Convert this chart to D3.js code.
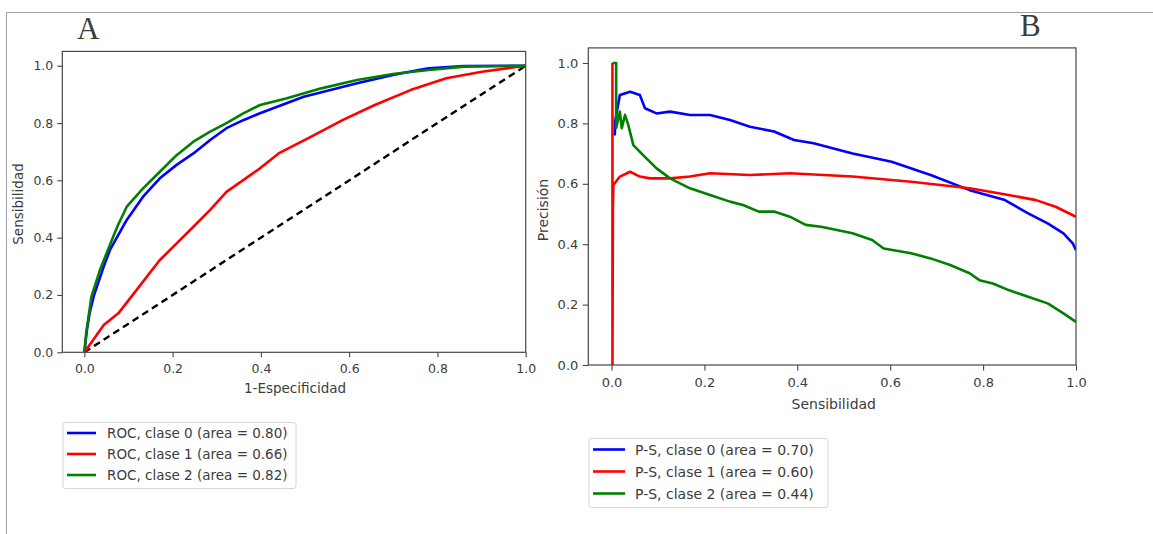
<!DOCTYPE html>
<html>
<head>
<meta charset="utf-8">
<script src="https://cdn.jsdelivr.net/npm/d3@7"></script>
<style>
  body { margin: 0; background: #fff; }
  text { font-family: "DejaVu Sans", sans-serif; fill: #3c3c3c; }
</style>
</head>
<body>
<script>
// tick values shared by both panels
const tickValues = [0, 0.2, 0.4, 0.6, 0.8, 1.0];
const colors = ["#0000ff", "#ff0000", "#008000"];

// ROC curves: [1-especificidad, sensibilidad]
const rocClase0 = [[0,0],[0.006,0.08],[0.012,0.137],[0.022,0.2],[0.044,0.30],[0.058,0.357],[0.077,0.41],[0.096,0.462],[0.133,0.543],[0.171,0.607],[0.209,0.654],[0.247,0.694],[0.285,0.741],[0.322,0.782],[0.36,0.81],[0.398,0.834],[0.497,0.892],[0.618,0.939],[0.699,0.968],[0.78,0.991],[0.86,0.999],[1,1]];
const rocClase1 = [[0,0],[0.044,0.095],[0.077,0.136],[0.118,0.217],[0.171,0.322],[0.209,0.38],[0.247,0.438],[0.285,0.497],[0.322,0.56],[0.36,0.601],[0.398,0.642],[0.44,0.694],[0.513,0.752],[0.585,0.81],[0.658,0.863],[0.739,0.915],[0.82,0.956],[0.901,0.979],[1,1]];
const rocClase2 = [[0,0],[0.004,0.067],[0.016,0.194],[0.036,0.29],[0.058,0.375],[0.075,0.44],[0.096,0.508],[0.133,0.572],[0.171,0.63],[0.209,0.688],[0.247,0.735],[0.285,0.77],[0.322,0.80],[0.36,0.834],[0.398,0.863],[0.457,0.886],[0.537,0.921],[0.618,0.95],[0.699,0.971],[0.78,0.985],[0.86,0.997],[1,1]];
const rocAzar = [[0,0],[1,1]];
const rocLabels = ["ROC, clase 0 (area = 0.80)", "ROC, clase 1 (area = 0.66)", "ROC, clase 2 (area = 0.82)"];

// Precision-Sensibilidad curves: [sensibilidad, precision]
const psClase0 = [[0.007,0.76],[0.008,0.81],[0.018,0.894],[0.04,0.905],[0.061,0.894],[0.072,0.85],[0.097,0.833],[0.126,0.839],[0.169,0.828],[0.212,0.828],[0.255,0.811],[0.298,0.789],[0.35,0.773],[0.393,0.745],[0.435,0.734],[0.519,0.70],[0.603,0.673],[0.687,0.629],[0.771,0.579],[0.847,0.546],[0.897,0.502],[0.939,0.469],[0.973,0.436],[0.993,0.403],[1,0.38]];
const psClase1 = [[0.002,1.0],[0.002,0],[0.003,0.53],[0.004,0.596],[0.018,0.624],[0.04,0.64],[0.061,0.624],[0.083,0.618],[0.126,0.618],[0.169,0.624],[0.212,0.635],[0.298,0.629],[0.384,0.635],[0.519,0.624],[0.645,0.607],[0.771,0.585],[0.855,0.563],[0.914,0.546],[0.956,0.524],[1,0.491]];
const psClase2 = [[0.002,1.0],[0.01,1.0],[0.01,0.785],[0.018,0.839],[0.022,0.784],[0.029,0.828],[0.036,0.795],[0.047,0.728],[0.068,0.695],[0.097,0.651],[0.126,0.618],[0.169,0.585],[0.212,0.563],[0.255,0.541],[0.283,0.53],[0.317,0.508],[0.35,0.508],[0.384,0.491],[0.418,0.464],[0.451,0.458],[0.485,0.447],[0.519,0.436],[0.561,0.414],[0.586,0.386],[0.645,0.37],[0.687,0.353],[0.729,0.331],[0.771,0.304],[0.792,0.281],[0.821,0.27],[0.855,0.248],[0.897,0.226],[0.939,0.204],[0.973,0.171],[1,0.143]];
const psLabels = ["P-S, clase 0 (area = 0.70)", "P-S, clase 1 (area = 0.60)", "P-S, clase 2 (area = 0.44)"];

var svg = d3.select("body").append("svg")
  .attr("width", 1153)
  .attr("height", 534);

// thin frame of the original figure
svg.append("path")
  .attr("d", "M6.5,534 L6.5,12.5 L1153,12.5")
  .attr("fill", "none")
  .attr("stroke", "#a0a0a0")
  .attr("stroke-width", 1);

const drawPanel = (p) => {
  var x = d3.scaleLinear().domain([-0.05, 1.0]).range([p.left, p.right]);
  var y = d3.scaleLinear().domain([0, 1.05]).range([p.bottom, p.top]);
  var g = svg.append("g");

  g.append("clipPath").attr("id", "clip" + p.id)
    .append("rect")
    .attr("x", p.left).attr("y", p.top)
    .attr("width", p.right - p.left).attr("height", p.bottom - p.top);

  var xAxis = d3.axisBottom(x)
    .tickValues(tickValues)
    .tickFormat(d3.format(".1f"))
    .tickSize(p.tick)
    .tickPadding(p.xPad);
  var yAxis = d3.axisLeft(y)
    .tickValues(tickValues)
    .tickFormat(d3.format(".1f"))
    .tickSize(p.tick)
    .tickPadding(p.yPad);

  g.append("g")
    .attr("transform", "translate(0," + p.bottom + ")")
    .call(xAxis)
    .call((a) => a.select(".domain").remove());
  g.append("g")
    .attr("transform", "translate(" + p.left + ",0)")
    .call(yAxis)
    .call((a) => a.select(".domain").remove());
  g.selectAll(".tick line").attr("stroke", "#444").attr("stroke-width", 1.1);
  g.selectAll(".tick text")
    .style("font-family", "DejaVu Sans")
    .style("font-size", p.tickFont + "px")
    .attr("fill", "#3c3c3c");

  var line = d3.line().x((d) => x(d[0])).y((d) => y(d[1]));
  var curves = g.append("g").attr("clip-path", "url(#clip" + p.id + ")");

  if (p.diagonal) {
    curves.append("path")
      .attr("d", line(p.diagonal))
      .attr("fill", "none")
      .attr("stroke", "#000")
      .attr("stroke-width", 2.4)
      .attr("stroke-dasharray", "7,4.5");
  }
  p.series.forEach((s, i) => {
    curves.append("path")
      .attr("d", line(s))
      .attr("fill", "none")
      .attr("stroke", colors[i])
      .attr("stroke-width", 2.6)
      .attr("stroke-linejoin", "round");
  });

  // box
  g.append("rect")
    .attr("x", p.left).attr("y", p.top)
    .attr("width", p.right - p.left).attr("height", p.bottom - p.top)
    .attr("fill", "none")
    .attr("stroke", "#484848")
    .attr("stroke-width", 1.2);

  g.append("text")
    .text(p.xLabel)
    .attr("x", (x(0) + x(1)) / 2 - 10)
    .attr("y", p.xLabelY)
    .attr("text-anchor", "middle")
    .style("font-size", p.labelFont + "px");
  g.append("text")
    .text(p.yLabel)
    .attr("text-anchor", "middle")
    .attr("transform", "translate(" + p.yLabelX + "," + p.yLabelY + ") rotate(-90)")
    .style("font-size", p.labelFont + "px");

  g.append("text")
    .text(p.letter)
    .attr("x", p.letterX)
    .attr("y", p.letterY)
    .style("font-family", "Liberation Serif, serif")
    .style("font-size", "31px")
    .attr("fill", "#111");

  // legend
  var lg = g.append("g").attr("transform", "translate(" + p.legend.x + "," + p.legend.y + ")");
  lg.append("rect")
    .attr("width", p.legend.w).attr("height", p.legend.h)
    .attr("rx", 2.5)
    .attr("fill", "#fff")
    .attr("stroke", "#d6d6d6")
    .attr("stroke-width", 1);
  p.labels.forEach((label, i) => {
    var ry = p.legend.row0 + i * p.legend.step;
    lg.append("line")
      .attr("x1", 4).attr("x2", p.legend.lineEnd)
      .attr("y1", ry).attr("y2", ry)
      .attr("stroke", colors[i])
      .attr("stroke-width", 2.6);
    lg.append("text")
      .text(label)
      .attr("x", p.legend.textX)
      .attr("y", ry + 5)
      .style("font-size", p.legendFont + "px");
  });
};

drawPanel({
  id: "A", left: 62.3, right: 525.7, top: 51.4, bottom: 352.3,
  tick: 5, xPad: 7, yPad: 4, tickFont: 12.5, labelFont: 13.5, legendFont: 13.5,
  series: [rocClase0, rocClase1, rocClase2], diagonal: rocAzar,
  xLabel: "1-Especificidad", xLabelY: 393,
  yLabel: "Sensibilidad", yLabelX: 23, yLabelY: 204,
  letter: "A", letterX: 77, letterY: 39,
  labels: rocLabels,
  legend: { x: 63, y: 422.5, w: 233, h: 66, row0: 10.5, step: 21, lineEnd: 33, textX: 44 }
});

drawPanel({
  id: "B", left: 588.3, right: 1076, top: 47.9, bottom: 365,
  tick: 5.5, xPad: 7, yPad: 4.5, tickFont: 13, labelFont: 14, legendFont: 14,
  series: [psClase0, psClase1, psClase2],
  xLabel: "Sensibilidad", xLabelY: 409,
  yLabel: "Precisión", yLabelX: 548, yLabelY: 210,
  letter: "B", letterX: 1020, letterY: 36,
  labels: psLabels,
  legend: { x: 589, y: 438.5, w: 239, h: 69, row0: 11, step: 22, lineEnd: 36, textX: 46 }
});
</script>
</body>
</html>
